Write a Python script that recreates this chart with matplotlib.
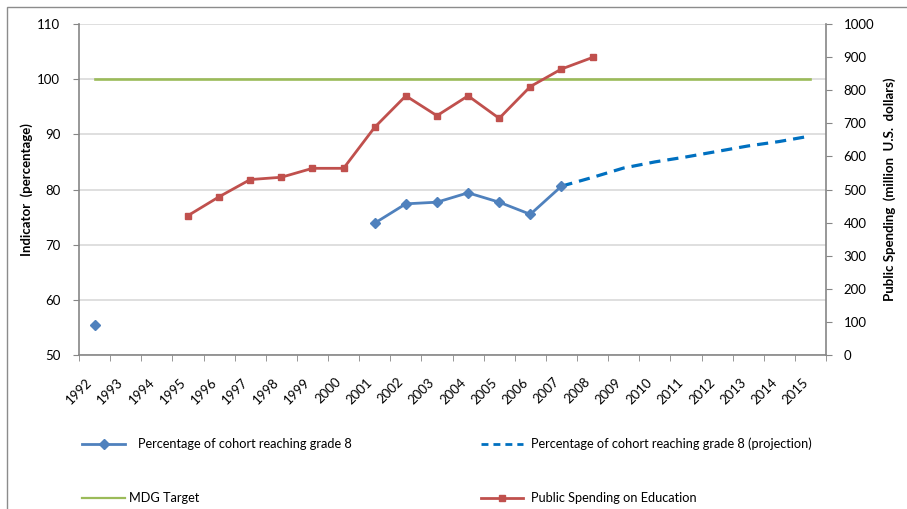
import numpy as np
import matplotlib.pyplot as plt
from matplotlib.lines import Line2D
from matplotlib.patches import Rectangle

plt.rcParams['font.family'] = ['Lato', 'DejaVu Sans']

years = [str(y) for y in range(1992, 2016)]
nan = np.nan

# percentage of cohort reaching grade 8 (left axis)
cohort = [55.4, nan, nan, nan, nan, nan, nan, nan, nan,
          73.9, 77.4, 77.7, 79.4, 77.7, 75.5, 80.6,
          nan, nan, nan, nan, nan, nan, nan, nan]
# projection, starting from the last observed year 2007
projection = [nan] * 15 + [80.6, 82.2, 83.9, 85.0, 85.9, 86.9, 87.9, 88.7, 89.7]
mdg_target = [100] * 24
# public spending on education, million US$ (right axis)
spending = [nan, nan, nan, 421, 478, 530, 537, 564, 564,
            688, 783, 723, 783, 715, 811, 864, 899,
            nan, nan, nan, nan, nan, nan, nan]

blue = '#4F81BD'
red = '#C0504D'
green = '#9BBB59'
proj_blue = '#0070C0'
axis_grey = '#868686'

fig = plt.figure(figsize=(9.07, 5.09), dpi=100)
ax = fig.add_axes([0.0871, 0.3026, 0.8236, 0.6502])
ax2 = ax.twinx()

x = np.arange(len(years))

ax.plot(x, mdg_target, color=green, linewidth=1.9, zorder=3)
ax.plot(x, projection, color=proj_blue, linewidth=2.3, dashes=(3.5, 2.2), zorder=3)
ax.plot(x, cohort, color=blue, linewidth=2, marker='D', markersize=5.5, zorder=4)
ax2.plot(x, spending, color=red, linewidth=2, marker='s', markersize=5, zorder=4)

ax.set_xlim(-0.5, len(years) - 0.5)
ax.set_ylim(50, 110)
ax.set_yticks(range(50, 111, 10))
ax2.set_ylim(0, 1000)
ax2.set_yticks(range(0, 1001, 100))

ax.set_xticks(x)
ax.set_xticklabels(years, rotation=45, ha='right', fontsize=9.5)
ax.set_xticks(np.arange(-0.5, len(years), 1), minor=True)
ax.tick_params(axis='x', which='major', length=0, pad=15)
ax.tick_params(axis='x', which='minor', length=4.5, color=axis_grey, direction='out')
ax.tick_params(axis='y', length=4.5, color=axis_grey, labelsize=9.5, pad=9)
ax2.tick_params(axis='y', length=4.5, color=axis_grey, labelsize=9.5, pad=8)

ax.yaxis.grid(True, color='#D9D9D9', linewidth=1.2)
ax.set_axisbelow(True)

for a in (ax, ax2):
    a.spines['top'].set_visible(False)
    for s in a.spines.values():
        s.set_color(axis_grey)
        s.set_linewidth(1.2)
ax.spines['right'].set_visible(False)
ax2.spines['left'].set_visible(False)
ax2.spines['bottom'].set_visible(False)

ax.set_ylabel('Indicator  (percentage)', fontsize=9.5, fontweight='bold', labelpad=3)
ax2.set_ylabel('Public Spending  (million  U.S.  dollars)', fontsize=9.5,
               fontweight='bold', labelpad=7)

# outer chart frame
fig.patches.append(Rectangle((7 / 907, -0.05), 1.2, 1 - 7 / 509 + 0.05,
                             transform=fig.transFigure, fill=False,
                             edgecolor='#8c8c8c', linewidth=1.0))

# legend drawn in figure coords, 2 columns x 2 rows
W, H = 907, 509
entries = [
    (82, 125, 444, 138, 'Percentage of cohort reaching grade 8',
     dict(color=blue, linewidth=2, marker='D', markersize=5)),
    (481, 523, 444, 531, 'Percentage of cohort reaching grade 8 (projection)',
     dict(color=proj_blue, linewidth=2, dashes=(2.5, 1.8))),
    (82, 125, 498, 129, 'MDG Target',
     dict(color=green, linewidth=1.6)),
    (481, 523, 498, 531, 'Public Spending on Education',
     dict(color=red, linewidth=2, marker='s', markersize=5)),
]
for x0, x1, yy, tx, label, style in entries:
    line = Line2D([x0 / W, x1 / W], [1 - yy / H, 1 - yy / H],
                  transform=fig.transFigure, markevery=[], **style)
    fig.lines.append(line)
    if 'marker' in style:
        mk = Line2D([(x0 + x1) / 2 / W], [1 - yy / H], transform=fig.transFigure,
                    linestyle='none', marker=style['marker'], color=style['color'],
                    markersize=style['markersize'])
        fig.lines.append(mk)
    fig.text(tx / W, 1 - yy / H, label, fontsize=9.2, va='center', ha='left')

fig.savefig('out.png', dpi=100)
